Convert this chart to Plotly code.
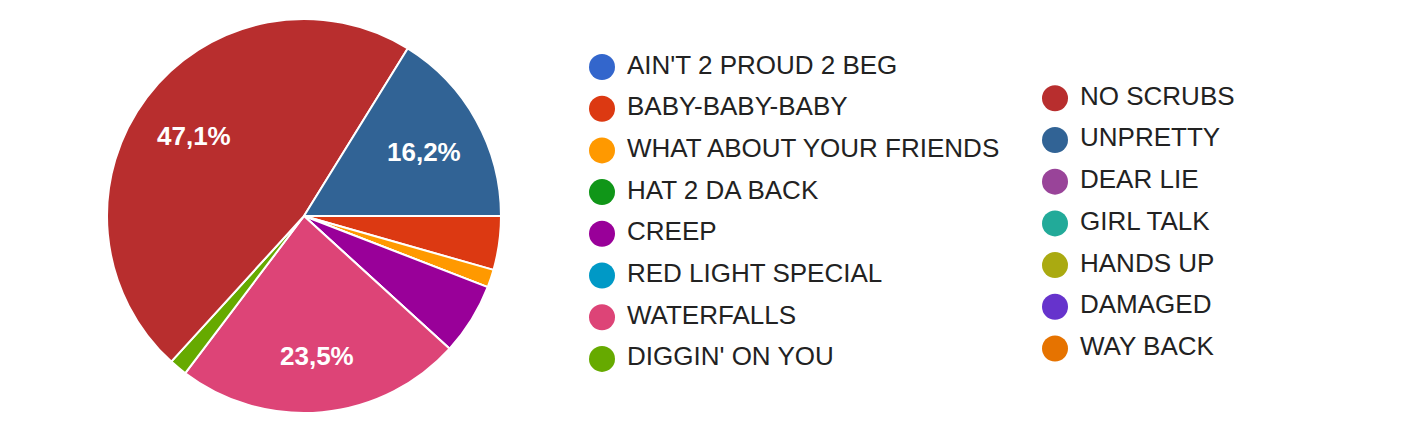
import math
import plotly.graph_objects as go

# Google Forms の回答集計 (68件)
songs = [
    "AIN'T 2 PROUD 2 BEG", "BABY-BABY-BABY", "WHAT ABOUT YOUR FRIENDS",
    "HAT 2 DA BACK", "CREEP", "RED LIGHT SPECIAL", "WATERFALLS",
    "DIGGIN' ON YOU", "NO SCRUBS", "UNPRETTY", "DEAR LIE", "GIRL TALK",
    "HANDS UP", "DAMAGED", "WAY BACK",
]
votes = [0, 3, 1, 0, 4, 0, 16, 1, 32, 11, 0, 0, 0, 0, 0]
colors = [
    "#3366cc", "#dc3912", "#ff9900", "#109618", "#990099", "#0099c6",
    "#dd4477", "#66aa00", "#b82e2e", "#316395", "#994499", "#22aa99",
    "#aaaa11", "#6633cc", "#e67300",
]

FONT = "Arial, Liberation Sans, sans-serif"
W, H = 1428, 437
OFF = 8  # ページ body の余白分

# 円の位置 (px)
CX, CY, R = 304 - OFF, 216 - OFF, 197
START = 90  # 最初のスライスは3時の方向から時計回り

fig = go.Figure()

fig.add_trace(go.Pie(
    labels=songs,
    values=votes,
    textinfo="none",
    marker=dict(colors=colors, line=dict(color="white", width=2)),
    sort=False,
    direction="clockwise",
    rotation=START,
    showlegend=False,
    hoverinfo="label+percent",
    domain=dict(x=[(CX - R) / W, (CX + R) / W], y=[1 - (CY + R) / H, 1 - (CY - R) / H]),
))

# スライスのラベル (10%以上のみ)
total = sum(votes)
cum = 0
for v in votes:
    share = v / total
    if share >= 0.1:
        theta = math.radians(START + 360 * (cum + v / 2) / total)
        px = CX + 0.7 * R * math.sin(theta)
        py = CY - 0.7 * R * math.cos(theta) + 3
        fig.add_annotation(
            x=px / W, y=1 - py / H, xref="paper", yref="paper",
            xanchor="center", yanchor="middle",
            text=f"{share * 100:.1f}%".replace(".", ","),
            showarrow=False,
            font=dict(family=FONT, size=26, color="white", weight="bold"),
        )
    cum += v

# 凡例: 2列 (左 8 件, 右 7 件)
n_left = 8
col = [0 if i < n_left else 1 for i in range(len(songs))]
row = [i if i < n_left else (i - n_left) + 0.75 for i in range(len(songs))]

COL0_X, COL_GAP = 602 - OFF, 453
ROW0_Y, ROW_GAP = 67 - OFF, 41.7

fig.add_trace(go.Scatter(
    x=col, y=row,
    mode="markers",
    marker=dict(size=26, color=colors, line=dict(width=0)),
    hoverinfo="skip",
    showlegend=False,
))
fig.add_trace(go.Scatter(
    x=[c + 25 / COL_GAP for c in col], y=row,
    mode="text",
    text=songs,
    textposition="middle right",
    textfont=dict(family=FONT, size=26, color="#222222"),
    hoverinfo="skip",
    showlegend=False,
))

fig.update_layout(
    width=W, height=H,
    margin=dict(l=0, r=0, t=0, b=0),
    paper_bgcolor="white",
    plot_bgcolor="white",
    xaxis=dict(visible=False, range=[-COL0_X / COL_GAP, (W - COL0_X) / COL_GAP], fixedrange=True),
    yaxis=dict(visible=False, range=[(H - ROW0_Y) / ROW_GAP, -ROW0_Y / ROW_GAP], fixedrange=True),
)

fig.write_html("out.html")
